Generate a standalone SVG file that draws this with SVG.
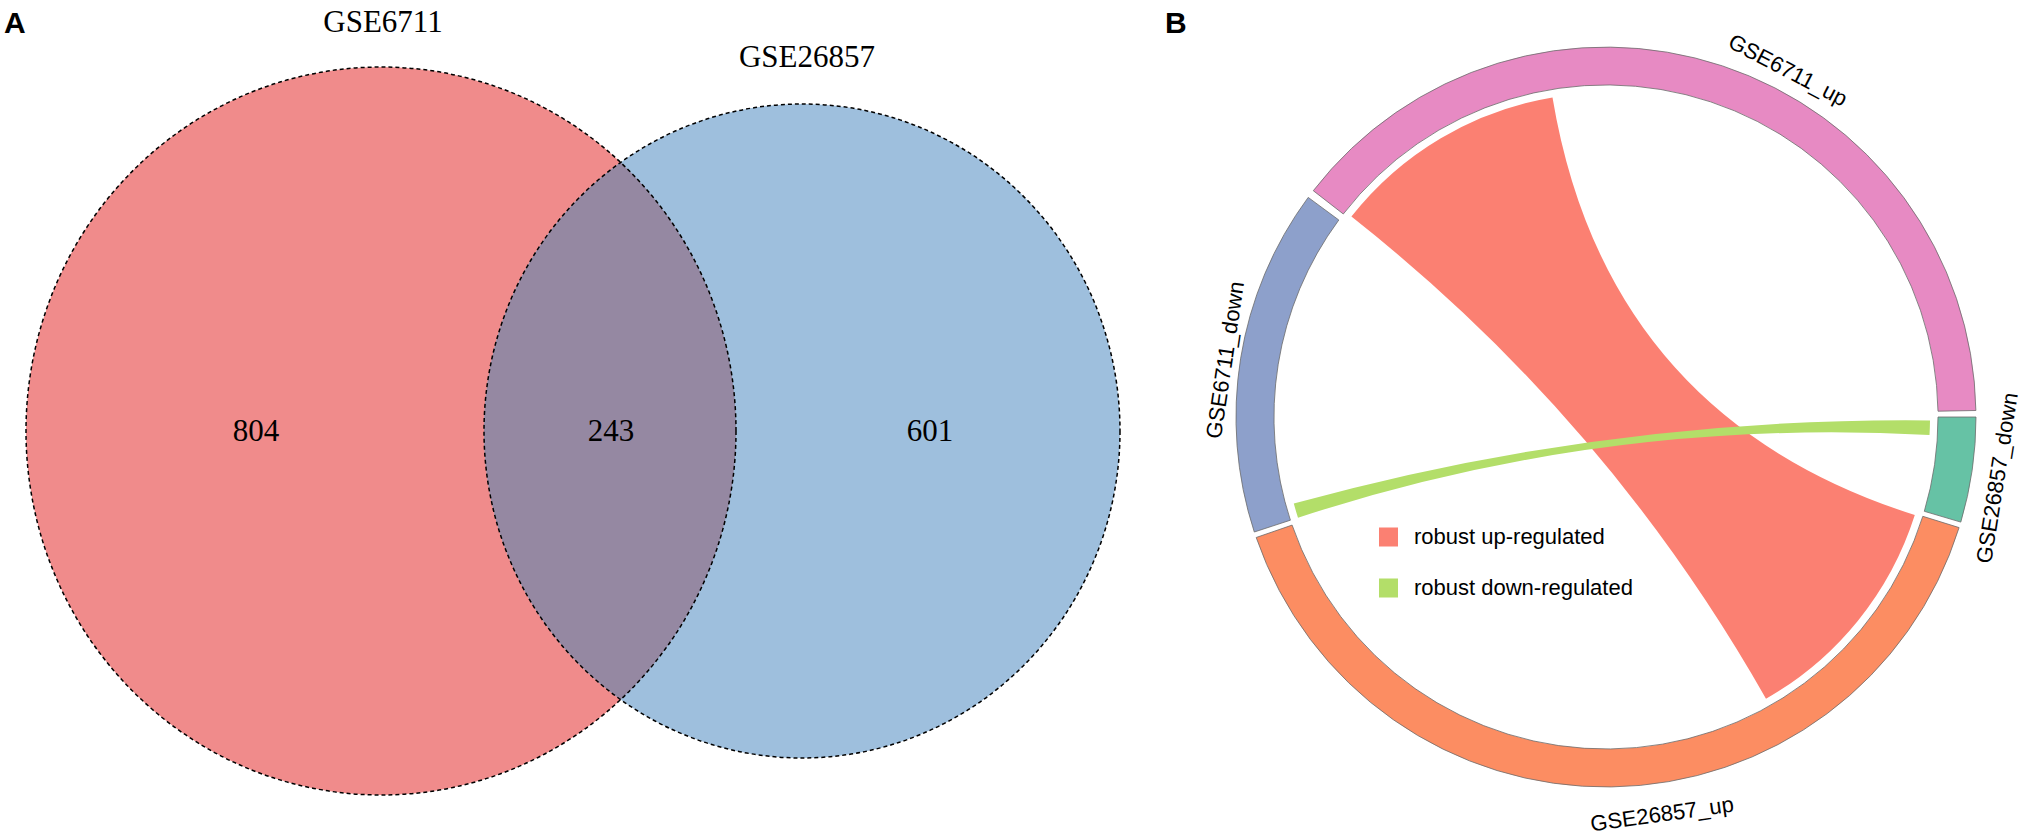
<svg xmlns="http://www.w3.org/2000/svg" width="2020" height="833" viewBox="0 0 2020 833">
<style>
.panel{font-family:"Liberation Sans",Arial,sans-serif;font-weight:bold;font-size:30px;fill:#000}
.vt{font-family:"Liberation Serif","Times New Roman",serif;font-size:31px;fill:#000;text-anchor:middle}
.outline{fill:none;stroke:#000;stroke-width:1.5;stroke-dasharray:4 3}
.seg{stroke:#6b6b6b;stroke-width:0.8}
.lab{font-family:"Liberation Sans",Arial,sans-serif;font-size:22px;fill:#000;text-anchor:middle;dominant-baseline:central}
.leg{font-family:"Liberation Sans",Arial,sans-serif;font-size:22px;fill:#000}
</style>
<defs>
<clipPath id="clipLeft"><ellipse cx="381" cy="431" rx="355" ry="364"/></clipPath>
</defs>
<rect width="2020" height="833" fill="#fff"/>

<text class="panel" x="4" y="33">A</text>
<text class="panel" x="1165" y="33">B</text>

<!-- Venn diagram -->
<g id="set-GSE6711">
<ellipse cx="381" cy="431" rx="355" ry="364" fill="#F08B8B"/>
</g>
<g id="set-GSE26857">
<ellipse cx="802" cy="431" rx="318" ry="327" fill="#9EBFDD"/>
</g>
<g id="overlap">
<ellipse cx="802" cy="431" rx="318" ry="327" fill="#9588A2" clip-path="url(#clipLeft)"/>
</g>
<g id="venn-outlines">
<ellipse class="outline" cx="381" cy="431" rx="355" ry="364"/>
<ellipse class="outline" cx="802" cy="431" rx="318" ry="327"/>
</g>
<g id="venn-labels">
<text class="vt" x="383" y="32">GSE6711</text>
<text class="vt" x="807" y="67">GSE26857</text>
<text class="vt" x="256" y="441">804</text>
<text class="vt" x="611" y="441">243</text>
<text class="vt" x="930" y="441">601</text>
</g>

<!-- Chord diagram -->
<g id="connectors">
<path id="chord-up" fill="#FB8072" d="M1351.4,216.6 A324,324 0 0 1 1552.5,97.4 Q1606,417 1914.8,515.0 A324,324 0 0 1 1766.0,698.7 Q1606,417 1351.4,216.6 Z"/>
<path id="chord-down" fill="#B3DE69" d="M1298.0,517.7 A324,324 0 0 1 1293.8,503.6 Q1606,417 1930.0,420.4 A324,324 0 0 1 1929.5,435.1 Q1606,417 1298.0,517.7 Z"/>
</g>

<g id="sector-GSE6711_up">
<path class="seg" fill="#E78AC3" d="M1313.3,190.7 A370,370 0 0 1 1975.9,410.5 L1938.0,411.2 A332,332 0 0 0 1343.3,214.0 Z"/>
<text class="lab" transform="translate(1788,70) rotate(27.5)">GSE6711_up</text>
</g>
<g id="sector-GSE26857_down">
<path class="seg" fill="#66C2A5" d="M1976,417 A370,370 0 0 1 1960.8,522.1 L1924.3,511.3 A332,332 0 0 0 1938,417 Z"/>
<text class="lab" transform="translate(1997,478) rotate(-81)">GSE26857_down</text>
</g>
<g id="sector-GSE26857_up">
<path class="seg" fill="#FC8D62" d="M1959.1,527.6 A370,370 0 0 1 1256.2,537.5 L1292.1,525.1 A332,332 0 0 0 1922.8,516.3 Z"/>
<text class="lab" transform="translate(1662,814) rotate(-8)">GSE26857_up</text>
</g>
<g id="sector-GSE6711_down">
<path class="seg" fill="#8DA0CB" d="M1254.3,532.0 A370,370 0 0 1 1308.2,197.4 L1338.8,220.0 A332,332 0 0 0 1290.4,520.2 Z"/>
<text class="lab" transform="translate(1225,360) rotate(-81.5)">GSE6711_down</text>
</g>

<g id="legend">
<rect x="1379" y="527.5" width="19" height="19" fill="#FB8072"/>
<text class="leg" x="1414" y="543.5">robust up-regulated</text>
<rect x="1379" y="578.5" width="19" height="19" fill="#B3DE69"/>
<text class="leg" x="1414" y="594.5">robust down-regulated</text>
</g>
</svg>
